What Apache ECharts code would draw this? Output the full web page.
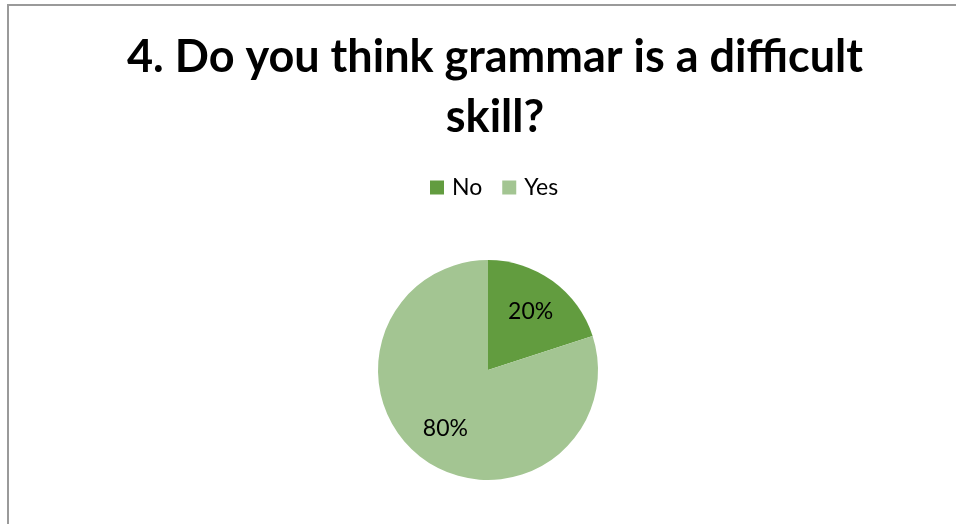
<!DOCTYPE html>
<html>
<head>
<meta charset="utf-8">
<script src="https://cdn.jsdelivr.net/npm/echarts@6/dist/echarts.min.js"></script>
<style>
  html, body { margin: 0; padding: 0; background: #fff; }
  #chart { width: 956px; height: 524px; }
</style>
</head>
<body>
<div id="chart"></div>
<script>
// Survey answers for question 4
const categories = ['No', 'Yes'];
const shares = [20, 80];
const sliceColors = ['#629C3F', '#A3C592'];
const titleText = '4. Do you think grammar is a difficult\nskill?';

const pieData = categories.map((name, i) => ({
  name: name,
  value: shares[i],
  itemStyle: { color: sliceColors[i] }
}));

const chart = echarts.init(document.getElementById('chart'));
chart.setOption({
  animation: false,
  backgroundColor: '#ffffff',
  title: {
    text: titleText,
    top: 22,
    textAlign: 'center',
    left: 490,
    textStyle: {
      fontFamily: 'Lato',
      fontWeight: 'bold',
      fontSize: 45,
      lineHeight: 60,
      color: '#000000'
    }
  },
  legend: {
    data: categories,
    top: 171,
    left: 425,
    icon: 'rect',
    itemWidth: 14,
    itemHeight: 14,
    itemGap: 20,
    textStyle: {
      fontFamily: 'Lato',
      fontSize: 23,
      color: '#000000',
      padding: [0, 0, 0, 3]
    }
  },
  graphic: [
    {
      type: 'polyline',
      shape: { points: [[8, 524], [8, 5], [956, 5]] },
      style: { stroke: '#9a9a9a', lineWidth: 2, fill: null },
      silent: true
    }
  ],
  series: [
    {
      type: 'pie',
      center: [488, 370],
      radius: 110,
      startAngle: 90,
      clockwise: true,
      data: pieData,
      label: { show: false },
      labelLine: { show: false },
      emphasis: { disabled: true }
    },
    {
      // transparent ring used only to place the percentage labels further out
      type: 'pie',
      center: [488, 370],
      radius: 139,
      startAngle: 90,
      clockwise: true,
      silent: true,
      data: categories.map((name, i) => ({ name: name, value: shares[i] })),
      itemStyle: { color: 'rgba(0,0,0,0)' },
      label: {
        show: true,
        position: 'inside',
        formatter: '{c}%',
        fontFamily: 'Lato',
        fontSize: 23,
        color: '#000000'
      },
      labelLine: { show: false },
      emphasis: { disabled: true }
    }
  ]
});
</script>
</body>
</html>
